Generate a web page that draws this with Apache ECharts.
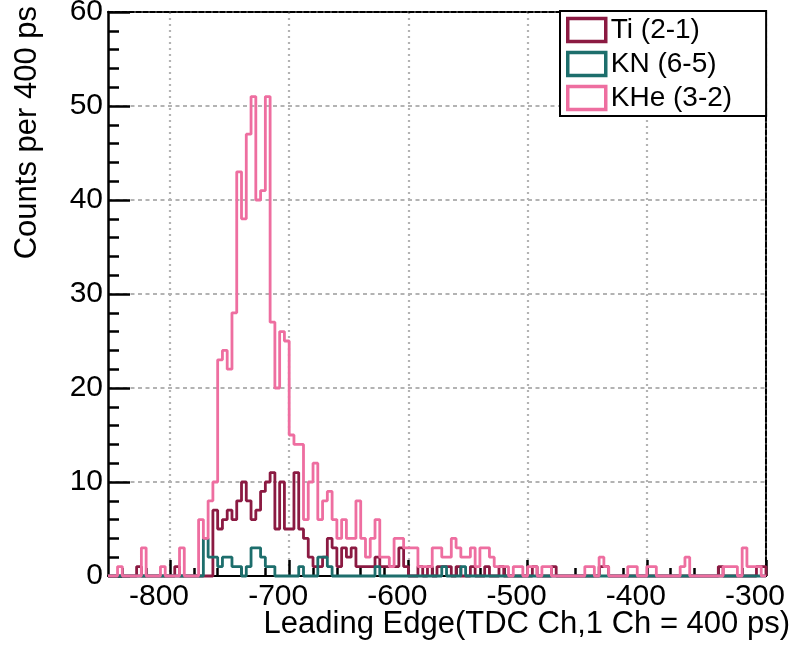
<!DOCTYPE html>
<html>
<head>
<meta charset="utf-8">
<script src="https://cdn.jsdelivr.net/npm/echarts@6/dist/echarts.min.js"></script>
<style>
  html, body { margin: 0; padding: 0; background: #ffffff; }
  #chart { width: 800px; height: 648px; }
</style>
</head>
<body>
<div id="chart"></div>
<script>
// Leading-edge histograms, 4 TDC channels per bin, first bin starts at channel -852
const binStart = -852;
const binWidth = 4;
const xMin = -852;
const xMax = -300;
const xTickValues = [-800, -700, -600, -500, -400, -300];
const xMinorTickValues = [-840, -820, -780, -760, -740, -720, -680, -660, -640, -620,
  -580, -560, -540, -520, -480, -460, -440, -420, -380, -360, -340, -320];
const yMin = 0;
const yMax = 60;
const yStep = 10;

const seriesNames = ['Ti (2-1)', 'KN (6-5)', 'KHe (3-2)'];
const seriesColors = ['#8B1A42', '#1D6E6C', '#EE6EA0'];

// counts per bin, bin i covers [binStart + i*binWidth, binStart + (i+1)*binWidth)
const countsTi = [
  0, 0, 0, 0, 0, 0, 1, 0, 0, 0,
  0, 0, 0, 0, 1, 0, 0, 0, 0, 0,
  0, 0, 7, 5, 6, 7, 6, 8, 10, 8,
  6, 7, 9, 10, 11, 5, 10, 5, 5, 11,
  5, 4, 2, 1, 1, 2, 4, 3, 1, 3,
  2, 3, 1, 1, 1, 1, 2, 1, 1, 1,
  1, 3, 1, 0, 0, 1, 0, 1, 0, 1,
  1, 1, 0, 1, 0, 0, 1, 0, 0, 1,
  0, 0, 1, 0, 0, 0, 0, 0, 0, 1,
  0, 0, 0, 1, 0, 0, 0, 0, 0, 0,
  0, 0, 0, 1, 1, 0, 0, 0, 0, 0,
  0, 0, 0, 0, 0, 0, 0, 0, 0, 0,
  0, 0, 0, 0, 0, 0, 0, 0, 1, 0,
  0, 0, 0, 0, 0, 0, 1, 1
];
const countsKN = [
  0, 0, 0, 0, 0, 0, 0, 0, 0, 0,
  0, 0, 0, 0, 0, 0, 0, 0, 0, 0,
  4, 2, 2, 1, 2, 2, 1, 1, 0, 1,
  3, 3, 2, 1, 1, 0, 0, 0, 0, 0,
  1, 0, 0, 0, 2, 2, 1, 0, 0, 0,
  0, 0, 0, 0, 0, 0, 1, 0, 0, 0,
  0, 0, 0, 0, 0, 0, 0, 0, 0, 0,
  1, 0, 0, 0, 1, 0, 0, 0, 0, 0,
  0, 0, 0, 0, 0, 0, 0, 0, 0, 0,
  0, 0, 0, 0, 0, 0, 0, 0, 0, 0,
  0, 0, 0, 0, 0, 0, 0, 0, 0, 0,
  0, 0, 0, 0, 0, 0, 0, 0, 0, 0,
  0, 0, 0, 0, 0, 0, 0, 0, 0, 0,
  0, 0, 0, 0, 0, 0, 0, 0
];
const countsKHe = [
  0, 0, 1, 0, 0, 0, 0, 3, 0, 0,
  0, 1, 0, 0, 0, 3, 0, 0, 0, 6,
  4, 8, 10, 23, 24, 22, 28, 43, 38, 47,
  51, 40, 41, 51, 27, 20, 26, 25, 15, 14,
  14, 6, 10, 12, 6, 8, 9, 6, 4, 6,
  4, 4, 8, 4, 2, 4, 6, 2, 2, 1,
  4, 4, 3, 3, 3, 1, 1, 1, 3, 3,
  2, 2, 4, 3, 2, 2, 3, 1, 3, 3,
  2, 1, 1, 1, 0, 1, 1, 0, 1, 1,
  0, 1, 1, 0, 0, 0, 0, 0, 0, 0,
  1, 1, 0, 2, 1, 0, 0, 0, 0, 1,
  1, 0, 0, 1, 1, 0, 0, 0, 0, 0,
  1, 2, 0, 0, 0, 0, 0, 0, 0, 1,
  1, 1, 0, 3, 1, 1, 1, 0
];

const fontFamily = '"Liberation Sans", Arial, sans-serif';

// outline of a histogram: vertical rise at the first edge, flat tops, drop at the last edge
function histogramOutline(counts) {
  const pts = [[binStart, 0]];
  for (let i = 0; i < counts.length; i++) {
    pts.push([binStart + i * binWidth, counts[i]]);
  }
  const lastEdge = binStart + counts.length * binWidth;
  pts.push([lastEdge, counts[counts.length - 1]]);
  pts.push([lastEdge, 0]);
  return pts;
}

function histSeries(name, counts, color, width, z) {
  return {
    name: name,
    type: 'line',
    step: 'end',
    showSymbol: false,
    symbol: 'none',
    clip: false,
    xAxisIndex: 0,
    yAxisIndex: 0,
    data: histogramOutline(counts),
    lineStyle: { color: color, width: width },
    itemStyle: { color: color },
    z: z,
    animation: false
  };
}

const chart = echarts.init(document.getElementById('chart'), null, { renderer: 'canvas' });

chart.setOption({
  animation: false,
  backgroundColor: '#ffffff',
  grid: { left: 108, right: 34, top: 12, bottom: 72, containLabel: false, outerBoundsMode: 'none' },
  legend: {
    orient: 'vertical',
    left: 560,
    top: 11,
    backgroundColor: '#ffffff',
    borderColor: '#000000',
    borderWidth: 2,
    borderRadius: 0,
    padding: [5, 34, 4, 6],
    itemGap: 6,
    itemWidth: 38,
    itemHeight: 23,
    selectedMode: false,
    textStyle: { fontFamily: fontFamily, fontSize: 28, lineHeight: 28, color: '#000000' },
    data: seriesNames.map((n, i) => ({
      name: n,
      icon: 'rect',
      itemStyle: { color: 'rgba(255,255,255,0)', borderColor: seriesColors[i], borderWidth: 3.5 }
    }))
  },
  xAxis: [
    {
      type: 'value',
      position: 'bottom',
      min: xMin,
      max: xMax,
      axisLine: { show: true, onZero: false, lineStyle: { color: '#000000', width: 2 } },
      axisTick: {
        show: true, inside: true, length: 16, customValues: xTickValues,
        lineStyle: { color: '#000000', width: 2.5 }
      },
      axisLabel: {
        show: true, customValues: xTickValues, margin: 6,
        fontFamily: fontFamily, fontSize: 30, color: '#000000',
        padding: [0, 22, 0, 0],
        showMinLabel: true, showMaxLabel: true
      },
      splitLine: {
        show: true,
        lineStyle: { color: '#b3b3b3', width: 2.2, type: [2, 4] }
      }
    },
    {
      type: 'value',
      position: 'bottom',
      min: xMin,
      max: xMax,
      axisLine: { show: false },
      axisTick: {
        show: true, inside: true, length: 8, customValues: xMinorTickValues,
        lineStyle: { color: '#000000', width: 2.5 }
      },
      axisLabel: { show: false },
      splitLine: { show: false }
    },
    {
      type: 'value',
      position: 'top',
      min: xMin,
      max: xMax,
      axisLine: { show: true, onZero: false, lineStyle: { color: '#000000', width: 2, type: [5, 2] } },
      axisTick: { show: false },
      axisLabel: { show: false },
      splitLine: { show: false }
    }
  ],
  yAxis: [
    {
      type: 'value',
      position: 'left',
      min: yMin,
      max: yMax,
      interval: yStep,
      axisLine: { show: true, onZero: false, lineStyle: { color: '#000000', width: 2.5 } },
      axisTick: { show: true, inside: true, length: 22, lineStyle: { color: '#000000', width: 2.5 } },
      minorTick: { show: true, splitNumber: 5, length: 11, lineStyle: { color: '#000000', width: 2.5 } },
      axisLabel: { margin: 5, fontFamily: fontFamily, fontSize: 30, color: '#000000' },
      splitLine: { show: true, lineStyle: { color: '#b3b3b3', width: 2.2, type: [4, 3.5] } }
    },
    {
      type: 'value',
      position: 'right',
      min: yMin,
      max: yMax,
      interval: yStep,
      axisLine: { show: true, onZero: false, lineStyle: { color: '#000000', width: 2, type: [5, 2] } },
      axisTick: { show: false },
      axisLabel: { show: false },
      splitLine: { show: false }
    }
  ],
  graphic: [
    {
      type: 'text',
      right: 10,
      top: 609,
      style: {
        text: 'Leading Edge(TDC Ch,1 Ch = 400 ps)',
        font: '31px ' + fontFamily,
        fill: '#000000'
      }
    },
    {
      type: 'text',
      x: 27,
      y: 6,
      rotation: Math.PI / 2,
      style: {
        text: 'Counts per 400 ps',
        font: '31px ' + fontFamily,
        fill: '#000000',
        align: 'right',
        verticalAlign: 'middle',
        textAlign: 'right',
        textVerticalAlign: 'middle'
      }
    }
  ],
  series: [
    histSeries(seriesNames[0], countsTi, seriesColors[0], 2.8, 2),
    histSeries(seriesNames[1], countsKN, seriesColors[1], 2.8, 3),
    histSeries(seriesNames[2], countsKHe, seriesColors[2], 2.8, 4)
  ]
});
</script>
</body>
</html>
